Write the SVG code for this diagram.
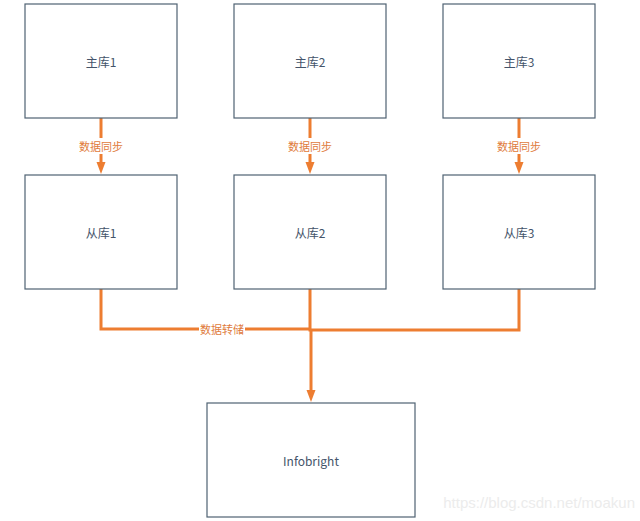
<svg xmlns="http://www.w3.org/2000/svg" width="640" height="521" viewBox="0 0 640 521">
<defs>
<style>
.box{fill:#fff;stroke:#4f6272;stroke-width:1.2}
.t{font-family:"Noto Sans CJK SC","Liberation Sans",sans-serif;font-size:12px;fill:#44546a;text-anchor:middle;dominant-baseline:central}
.c{fill:none;stroke:#ed7d31;stroke-width:3}
.l{font-family:"Noto Sans CJK SC","Liberation Sans",sans-serif;font-size:11px;fill:#e07b3c;text-anchor:middle;dominant-baseline:central}
.lb{fill:#fff}
</style>
<marker id="ah" markerWidth="4" markerHeight="4" refX="2" refY="2" orient="auto" markerUnits="strokeWidth">
<path d="M0,0.5 L4,2 L0,3.5 Z" fill="#ed7d31"/>
</marker>
</defs>
<rect width="640" height="521" fill="#fff"/>
<g id="connectors">
<line class="c" x1="101" y1="118" x2="101" y2="168" marker-end="url(#ah)"/>
<line class="c" x1="310" y1="118" x2="310" y2="168" marker-end="url(#ah)"/>
<line class="c" x1="519" y1="118" x2="519" y2="168" marker-end="url(#ah)"/>
<polyline class="c" points="101,289 101,329 310,329"/>
<polyline class="c" points="310,289 310,330 519,330 519,289"/>
<line class="c" x1="311" y1="329" x2="311" y2="396" marker-end="url(#ah)"/>
<rect class="lb" x="78" y="138" width="46" height="16"/>
<text class="l" x="101" y="146">数据同步</text>
<rect class="lb" x="287" y="138" width="46" height="16"/>
<text class="l" x="310" y="146">数据同步</text>
<rect class="lb" x="496" y="138" width="46" height="16"/>
<text class="l" x="519" y="146">数据同步</text>
<rect class="lb" x="199" y="321" width="46" height="16"/>
<text class="l" x="222" y="329">数据转储</text>
</g>
<g id="master1"><rect class="box" x="25" y="4" width="152" height="114"/><text class="t" x="101" y="61">主库1</text></g>
<g id="master2"><rect class="box" x="234" y="4" width="152" height="114"/><text class="t" x="310" y="61">主库2</text></g>
<g id="master3"><rect class="box" x="443" y="4" width="152" height="114"/><text class="t" x="519" y="61">主库3</text></g>
<g id="slave1"><rect class="box" x="25" y="175" width="152" height="114"/><text class="t" x="101" y="232">从库1</text></g>
<g id="slave2"><rect class="box" x="234" y="175" width="152" height="114"/><text class="t" x="310" y="232">从库2</text></g>
<g id="slave3"><rect class="box" x="443" y="175" width="152" height="114"/><text class="t" x="519" y="232">从库3</text></g>
<g id="infobright"><rect class="box" x="207" y="403" width="208" height="114"/><text class="t" x="311" y="460">Infobright</text></g>
<text x="635" y="508" font-family="Liberation Sans,sans-serif" font-size="15" fill="#ececec" text-anchor="end">https://blog.csdn.net/moakun</text>
</svg>
